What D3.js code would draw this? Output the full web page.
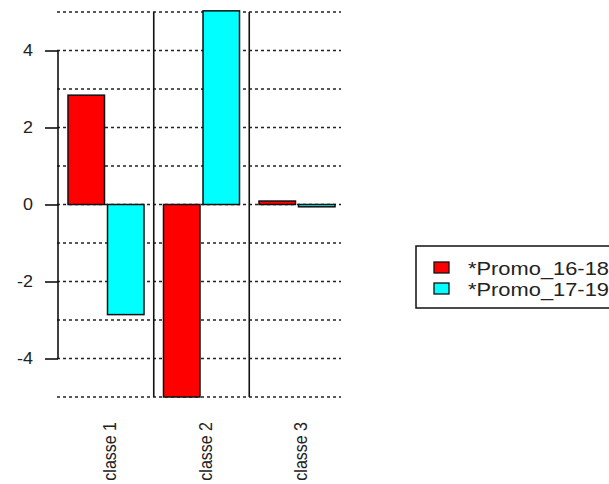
<!DOCTYPE html>
<html>
<head>
<meta charset="utf-8">
<script src="https://cdn.jsdelivr.net/npm/d3@7"></script>
<style>
  body { margin: 0; background: #fff; }
  svg { display: block; font-family: "Liberation Sans", Arial, sans-serif; }
</style>
</head>
<body>
<svg id="chart" width="609" height="484"></svg>
<script>
// data
var categories = ["classe 1", "classe 2", "classe 3"];
var seriesNames = ["*Promo_16-18", "*Promo_17-19"];
var promo1618 = [2.84, -5.0, 0.09];
var promo1719 = [-2.86, 5.03, -0.06];
var seriesColors = ["#ff0000", "#00ffff"];
var yTicks = [-4, -2, 0, 2, 4];

var svg = d3.select('#chart');

var values = [promo1618, promo1719];
var rows = [];
categories.forEach(function(c, i) {
    seriesNames.forEach(function(s, j) {
        rows.push({cat: c, series: s, value: values[j][i], color: seriesColors[j]});
    });
});

var yScale = d3.scaleLinear()
    .domain([-5, 5])
    .range([397, 12]);

var xGroup = d3.scaleBand()
    .domain(categories)
    .range([58.25, 344.75])
    .paddingInner(0.204)
    .paddingOuter(0.102);

var xInner = d3.scaleBand()
    .domain(seriesNames)
    .range([0, xGroup.bandwidth()])
    .paddingInner(0.076);

// the source picture is a bit stretched sideways, text included
var stretch = 1.2;

// dotted grid
svg.append('g')
    .selectAll('line')
    .data(d3.range(-5, 6, 1))
    .enter()
    .append('line')
    .attr('x1', 57)
    .attr('x2', 341)
    .attr('y1', function(d) { return yScale(d); })
    .attr('y2', function(d) { return yScale(d); })
    .attr('stroke', '#222')
    .attr('stroke-width', 1.6)
    .attr('stroke-dasharray', '3,3');

// vertical separators between groups
var gap = xGroup.step() - xGroup.bandwidth();
svg.append('g')
    .selectAll('line')
    .data(categories.slice(0, -1))
    .enter()
    .append('line')
    .attr('x1', function(d) { return xGroup(d) + xGroup.bandwidth() + gap / 2; })
    .attr('x2', function(d) { return xGroup(d) + xGroup.bandwidth() + gap / 2; })
    .attr('y1', yScale(5))
    .attr('y2', yScale(-5))
    .attr('stroke', '#111')
    .attr('stroke-width', 1.6);

// bars
svg.append('g')
    .selectAll('rect')
    .data(rows)
    .enter()
    .append('rect')
    .attr('x', function(d) { return xGroup(d.cat) + xInner(d.series); })
    .attr('width', xInner.bandwidth())
    .attr('y', function(d) { return yScale(Math.max(0, d.value)); })
    .attr('height', function(d) { return Math.abs(yScale(d.value) - yScale(0)); })
    .attr('fill', function(d) { return d.color; })
    .attr('stroke', '#111')
    .attr('stroke-width', 1.5);

// y axis, R style (hyphen minus, line only from -4 to 4)
var yAxis = svg.append('g')
    .attr('transform', 'translate(58,0)')
    .call(d3.axisLeft(yScale).tickValues(yTicks).tickSize(13).tickPadding(12)
        .tickFormat(function(d) { return String(d); }));
yAxis.select('.domain')
    .attr('d', 'M0,' + yScale(4) + 'V' + yScale(-4))
    .attr('stroke', '#111')
    .attr('stroke-width', 1.6);
yAxis.selectAll('.tick line').attr('stroke', '#111').attr('stroke-width', 1.6);
yAxis.selectAll('.tick text')
    .attr('x', -25 / 1.12)
    .attr('transform', 'scale(1.12,1)')
    .attr('fill', '#222')
    .style('font-size', '16px')
    .style('font-family', '"Liberation Sans", Arial, sans-serif');

// category labels, rotated
svg.append('g')
    .selectAll('text')
    .data(categories)
    .enter()
    .append('text')
    .attr('transform', function(d) {
        return 'translate(' + (xGroup(d) + xGroup.bandwidth() / 2 + 10) + ',422) scale(' + stretch + ',1) rotate(-90)';
    })
    .attr('text-anchor', 'end')
    .attr('fill', '#222')
    .style('font-size', '16px')
    .text(function(d) { return d; });

// legend
var legend = svg.append('g').attr('transform', 'translate(416,246)');
legend.append('rect')
    .attr('width', 220)
    .attr('height', 62)
    .attr('fill', 'none')
    .attr('stroke', '#111')
    .attr('stroke-width', 1.5);
var item = legend.selectAll('.item')
    .data(seriesNames)
    .enter()
    .append('g')
    .attr('class', 'item')
    .attr('transform', function(d, i) { return 'translate(0,' + (16 + i * 21) + ')'; });
item.append('rect')
    .attr('x', 18)
    .attr('width', 15)
    .attr('height', 11)
    .attr('fill', function(d, i) { return seriesColors[i]; })
    .attr('stroke', '#111')
    .attr('stroke-width', 1.3);
item.append('text')
    .attr('transform', 'translate(52,13) scale(1.25,1)')
    .attr('fill', '#222')
    .style('font-size', '17.5px')
    .text(function(d) { return d; });
</script>
</body>
</html>
